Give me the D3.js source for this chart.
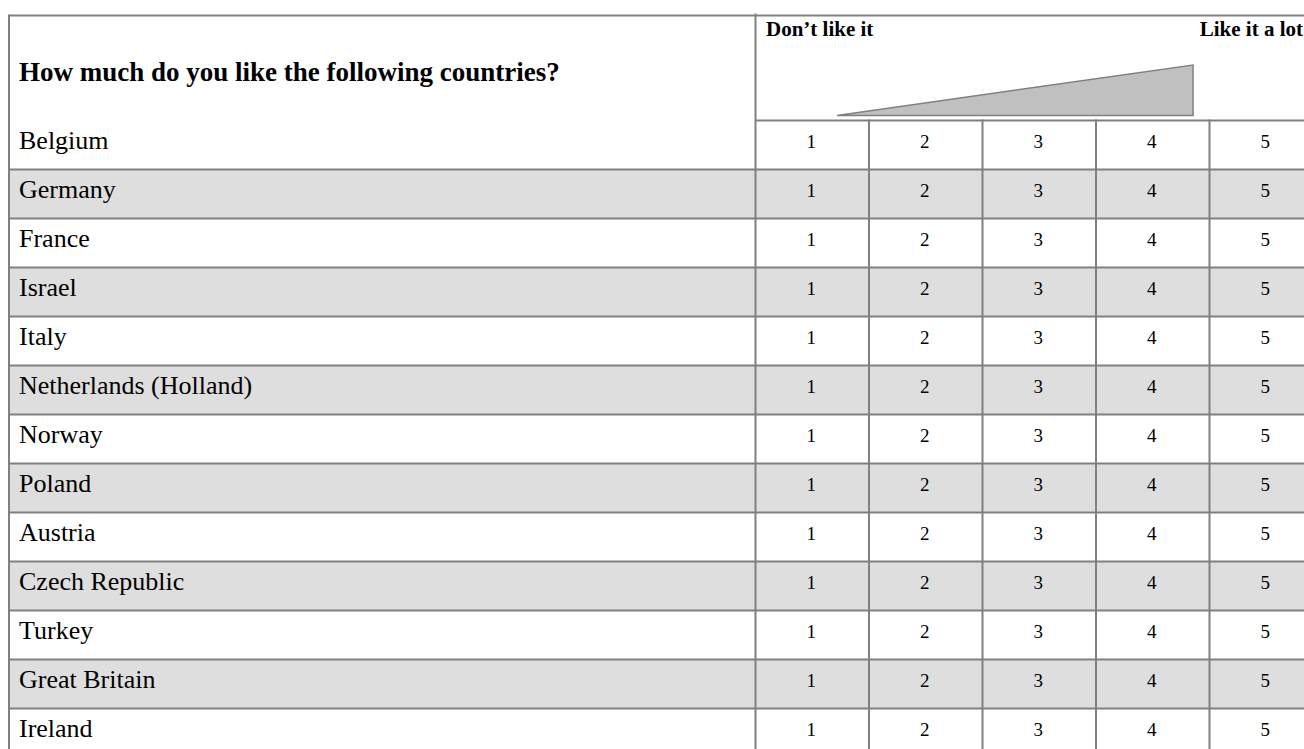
<!DOCTYPE html>
<html>
<head>
<meta charset="utf-8">
<script src="https://cdn.jsdelivr.net/npm/d3@7"></script>
<style>
  html, body { margin: 0; padding: 0; background: #fff; }
</style>
</head>
<body>
<div id="chart"></div>
<script>
// Survey grid data
const question = "How much do you like the following countries?";
const countries = [
  "Belgium", "Germany", "France", "Israel", "Italy",
  "Netherlands (Holland)", "Norway", "Poland", "Austria",
  "Czech Republic", "Turkey", "Great Britain", "Ireland"
];
const scaleValues = [1, 2, 3, 4, 5];
const anchorLabels = ["Don\u2019t like it", "Like it a lot"];

window.onload = function () {
  const width = 1304;
  const height = 749;
  const left = 9, top = 15.5;
  const splitX = 755.5;
  const headerBottom = 120.5;
  const rowH = 49;
  const colW = 113.5;
  const lineColor = "#808080";
  const shade = "#dedede";
  const serif = "'Liberation Serif', 'Times New Roman', serif";

  const svg = d3.select("#chart")
    .append("svg")
    .attr("width", width)
    .attr("height", height)
    .style("display", "block")
    .style("font-family", serif);

  const y = d3.scaleBand()
    .domain(countries)
    .range([headerBottom, headerBottom + countries.length * rowH]);

  const x = d3.scaleBand()
    .domain(scaleValues)
    .range([splitX, splitX + scaleValues.length * colW]);

  // row shading
  svg.selectAll("rect.row")
    .data(countries)
    .join("rect")
    .attr("class", "row")
    .attr("x", left)
    .attr("y", d => y(d))
    .attr("width", width - left)
    .attr("height", y.bandwidth())
    .attr("fill", (d, i) => i % 2 === 1 ? shade : "#fff");

  // row separators
  svg.selectAll("line.rowline")
    .data(countries.slice(1))
    .join("line")
    .attr("class", "rowline")
    .attr("x1", left).attr("x2", width)
    .attr("y1", d => y(d)).attr("y2", d => y(d))
    .attr("stroke", lineColor).attr("stroke-width", 2);

  // header bottom line (right part only)
  svg.append("line")
    .attr("x1", splitX).attr("x2", width)
    .attr("y1", headerBottom).attr("y2", headerBottom)
    .attr("stroke", lineColor).attr("stroke-width", 2);

  // column separators
  svg.selectAll("line.colline")
    .data(scaleValues.slice(1))
    .join("line")
    .attr("class", "colline")
    .attr("x1", d => x(d)).attr("x2", d => x(d))
    .attr("y1", headerBottom - 1).attr("y2", height)
    .attr("stroke", lineColor).attr("stroke-width", 2);

  // outer frame
  svg.append("line")
    .attr("x1", left).attr("x2", width)
    .attr("y1", top).attr("y2", top)
    .attr("stroke", lineColor).attr("stroke-width", 2);
  svg.append("line")
    .attr("x1", left).attr("x2", left)
    .attr("y1", top - 1).attr("y2", height)
    .attr("stroke", lineColor).attr("stroke-width", 2);
  svg.append("line")
    .attr("x1", splitX).attr("x2", splitX)
    .attr("y1", top - 2).attr("y2", height)
    .attr("stroke", lineColor).attr("stroke-width", 2);

  // question
  svg.append("text")
    .attr("x", 19)
    .attr("y", 81)
    .style("font-size", "27px")
    .style("font-weight", "700")
    .text(question);

  // anchor labels
  svg.append("text")
    .attr("x", 766)
    .attr("y", 36)
    .style("font-size", "21px")
    .style("font-weight", "700")
    .text(anchorLabels[0]);
  svg.append("text")
    .attr("x", 1303)
    .attr("y", 36)
    .attr("text-anchor", "end")
    .style("font-size", "21px")
    .style("font-weight", "700")
    .text(anchorLabels[1]);

  // increasing wedge
  const wedgeX = d3.scaleLinear().domain([1, 5]).range([837, 1193]);
  const wedgeY = d3.scaleLinear().domain([0, 1]).range([115.5, 65]);
  svg.append("path")
    .attr("d", `M${wedgeX(1)},${wedgeY(0)} L${wedgeX(5)},${wedgeY(1)} L${wedgeX(5)},${wedgeY(0)} Z`)
    .attr("fill", "#c0c0c0")
    .attr("stroke", lineColor)
    .attr("stroke-width", 1.5);

  // country labels
  svg.selectAll("text.country")
    .data(countries)
    .join("text")
    .attr("class", "country")
    .attr("x", 19)
    .attr("y", d => y(d) + 28)
    .style("font-size", "26px")
    .text(d => d);

  // scale numbers
  const cells = countries.flatMap(c => scaleValues.map(v => ({ c, v })));
  svg.selectAll("text.num")
    .data(cells)
    .join("text")
    .attr("class", "num")
    .attr("x", d => x(d.v) + x.bandwidth() / 2 - 1)
    .attr("y", d => y(d.c) + 27)
    .attr("text-anchor", "middle")
    .style("font-size", "19px")
    .text(d => d.v);
};
</script>
</body>
</html>
